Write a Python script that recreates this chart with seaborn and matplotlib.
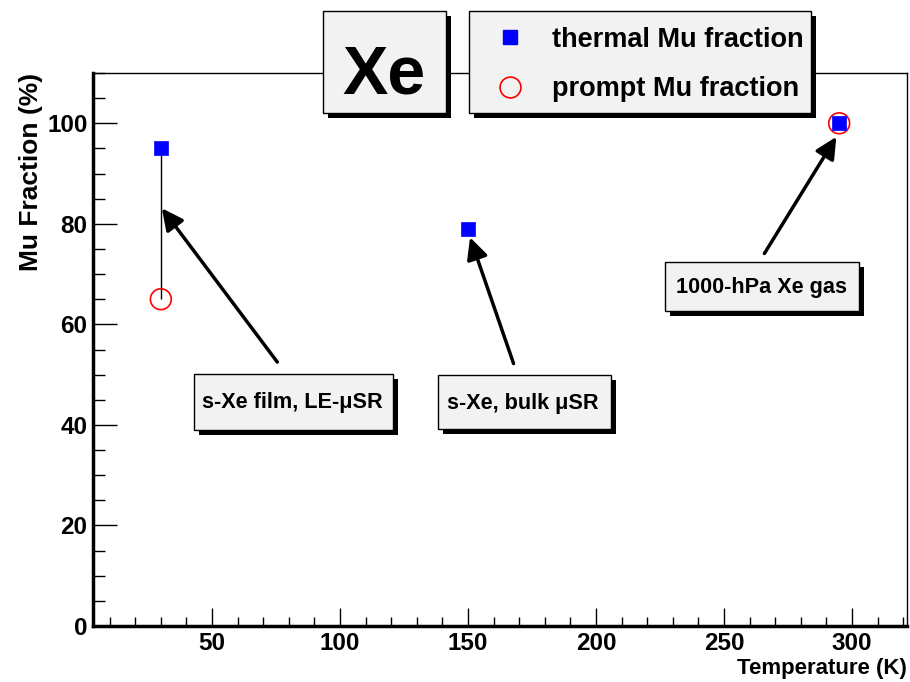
import pandas as pd
import seaborn as sns
import matplotlib.pyplot as plt
from matplotlib.patches import Rectangle
from matplotlib.lines import Line2D
from matplotlib.ticker import MultipleLocator

# data
temp_thermal = [30, 150, 295]
frac_thermal = [95, 79, 100]
temp_prompt = [30, 295]
frac_prompt = [65, 100]

x_ticks = [50, 100, 150, 200, 250, 300]
y_ticks = [0, 20, 40, 60, 80, 100]

legend_labels = ["thermal Mu fraction", "prompt Mu fraction"]
notes = ["s-Xe film, LE-\u03bcSR", "s-Xe, bulk \u03bcSR", "1000-hPa Xe gas"]

W, H = 910, 682

sns.set_style("ticks")
plt.rcParams['font.family'] = ['Liberation Sans', 'DejaVu Sans']
plt.rcParams['font.weight'] = 'bold'
plt.rcParams['axes.labelweight'] = 'bold'
for k in ['text.color', 'axes.labelcolor', 'xtick.color', 'ytick.color', 'axes.edgecolor']:
    plt.rcParams[k] = 'black'


def px(x, y):
    """image pixel (top-left origin) -> figure fraction"""
    return x / W, 1 - y / H


def pave(fig, x0, y0, x1, y1, off=5):
    """ROOT-like box with a black drop shadow, in image pixels"""
    fig.add_artist(Rectangle(px(x0 + off, y1 + off), (x1 - x0) / W, (y1 - y0) / H,
                             transform=fig.transFigure, facecolor='black',
                             edgecolor='none', zorder=1))
    fig.add_artist(Rectangle(px(x0, y1), (x1 - x0) / W, (y1 - y0) / H,
                             transform=fig.transFigure, facecolor='#f2f2f2',
                             edgecolor='black', lw=1, zorder=1.5))


fig = plt.figure(figsize=(W / 100, H / 100), dpi=100)
ax = fig.add_axes([93 / W, 1 - 626 / H, 814 / W, 553 / H])

thermal = pd.DataFrame({'T': temp_thermal, 'frac': frac_thermal})
prompt = pd.DataFrame({'T': temp_prompt, 'frac': frac_prompt})

# line joining prompt and thermal fraction of the film
ax.vlines(temp_thermal[0], frac_prompt[0], frac_thermal[0], color='black', lw=1, zorder=2)

sns.scatterplot(data=prompt, x='T', y='frac', marker='o', s=225, color='red',
                facecolor='none', edgecolor='red', linewidth=1.2, ax=ax, zorder=3)
sns.scatterplot(data=thermal, x='T', y='frac', marker='s', s=88, color='blue',
                edgecolor='blue', linewidth=0.5, ax=ax, zorder=4)

ax.set_xlim(3.5, 321.5)
ax.set_ylim(0, 110)
ax.set_xticks(x_ticks)
ax.set_yticks(y_ticks)
ax.xaxis.set_minor_locator(MultipleLocator(10))
ax.yaxis.set_minor_locator(MultipleLocator(5))
ax.tick_params(axis='both', which='both', direction='in', width=1, labelsize=17.5, pad=4)
ax.tick_params(axis='x', which='major', length=13)
ax.tick_params(axis='x', which='minor', length=6.5)
ax.tick_params(axis='y', which='major', length=17)
ax.tick_params(axis='y', which='minor', length=8.5)

for s in ['left', 'bottom']:
    ax.spines[s].set_linewidth(2.5)
for s in ['top', 'right']:
    ax.spines[s].set_linewidth(1)

ax.set_xlabel('Temperature (K)', fontsize=16, loc='right')
ax.xaxis.set_label_coords(1.0, -0.058)
ax.set_ylabel('Mu Fraction (%)', fontsize=19, loc='top')
ax.yaxis.set_label_coords(-0.061, 1.0)

# arrows from the note boxes to the points
arrows = [((30.4, 83.1), (75.5, 52.5)),
          ((150.8, 77.3), (167.8, 52.2)),
          ((293.9, 97.3), (265.8, 74.1))]
for head, tail in arrows:
    ax.annotate('', xy=head, xytext=tail,
                arrowprops=dict(arrowstyle='-|>,head_length=0.65,head_width=0.32',
                                lw=2.5, color='black', shrinkA=0, shrinkB=0,
                                mutation_scale=20))

# note boxes
boxes = [(194, 374, 393, 430, 292.5, 408),
         (438, 375, 611, 429, 523, 409),
         (665, 262, 859, 311, 761, 293)]
for (x0, y0, x1, y1, cx, cy), note in zip(boxes, notes):
    pave(fig, x0, y0, x1, y1)
    fig.text(*px(cx, cy), note, ha='center', va='baseline', fontsize=15.6, zorder=3)

# title box
pave(fig, 323, 11, 446, 113)
fig.text(*px(384, 93), 'Xe', ha='center', va='baseline', fontsize=49, zorder=3)

# legend box
pave(fig, 469, 11, 811, 113)
handles = [Line2D([], [], ls='', marker='s', ms=9.4, mfc='blue', mec='blue'),
           Line2D([], [], ls='', marker='o', ms=15, mfc='none', mec='red', mew=1.2)]
fig.legend(handles=handles, labels=legend_labels, loc='center left',
           bbox_to_anchor=px(490, 64.5), frameon=False, fontsize=19.5,
           handlelength=1.5, handletextpad=0.8, labelspacing=0.86,
           borderpad=0, borderaxespad=0, numpoints=1)

fig.savefig('out.png', dpi=100)
